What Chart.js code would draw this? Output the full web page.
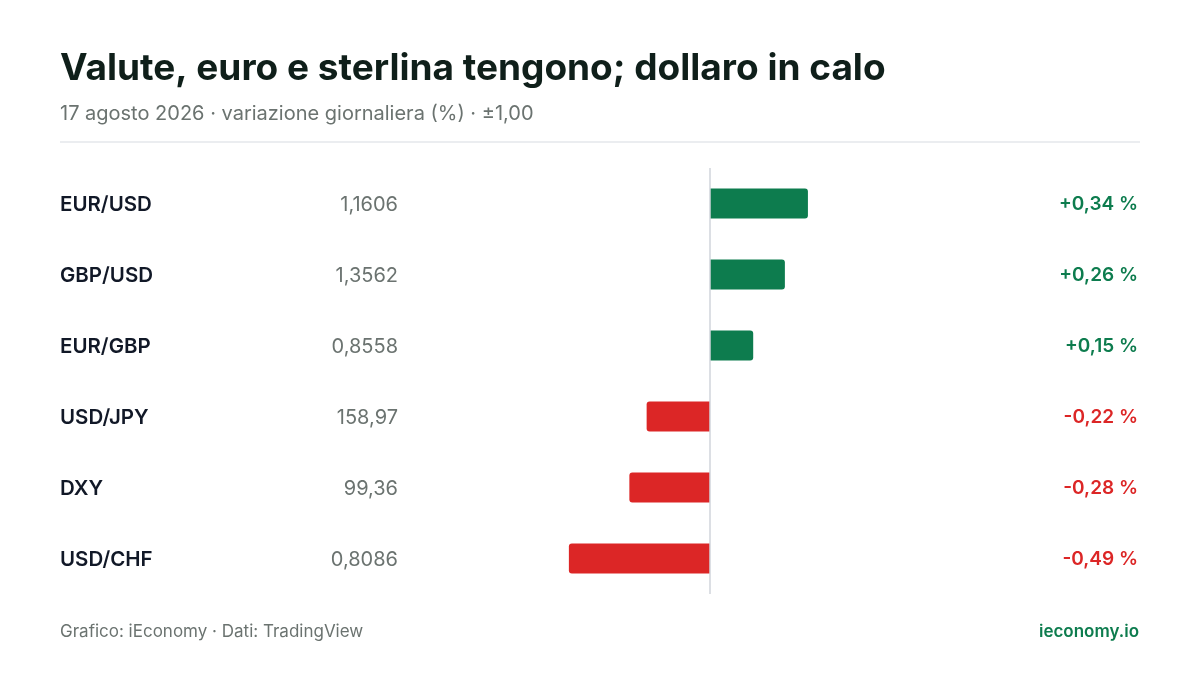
<!DOCTYPE html>
<html><head><meta charset="utf-8">
<script src="https://cdn.jsdelivr.net/npm/chart.js@4"></script>
<style>html,body{margin:0;padding:0;background:#fff}#c{display:block}</style>
</head><body>
<div style="width:1200px;height:675px"><canvas id="c"></canvas></div>
<script>
const pairs = ["EUR/USD","GBP/USD","EUR/GBP","USD/JPY","DXY","USD/CHF"];
const prices = ["1,1606","1,3562","0,8558","158,97","99,36","0,8086"];
const changes = [0.34,0.26,0.15,-0.22,-0.28,-0.49];
const changeLabels = ["+0,34 %","+0,26 %","+0,15 %","-0,22 %","-0,28 %","-0,49 %"];
const GREEN="#0d7c4e", RED="#dc2626", F="Inter, 'Noto Sans', sans-serif";

const deco = {
  id:'deco',
  afterDraw(ch){
    const c=ch.ctx, x=ch.scales.x, y=ch.scales.y;
    c.save();
    c.textBaseline='alphabetic';
    c.fillStyle='#0f1f1a'; c.font='bold 37px '+F; c.textAlign='left';
    c.fillText('Valute, euro e sterlina tengono; dollaro in calo',60,80);
    c.fillStyle='#6b7370'; c.font='20px '+F;
    c.fillText('17 agosto 2026 · variazione giornaliera (%) · ±1,00',60,120);
    c.strokeStyle='#e5e7eb'; c.lineWidth=1.5;
    c.beginPath(); c.moveTo(60,142); c.lineTo(1140,142); c.stroke();
    const x0=x.getPixelForValue(0);
    c.strokeStyle='#d1d5db'; c.lineWidth=1.5;
    c.beginPath(); c.moveTo(x0,168); c.lineTo(x0,594); c.stroke();
    c.textBaseline='middle';
    pairs.forEach((p,i)=>{
      const py=y.getPixelForValue(i)+1;
      c.textAlign='left'; c.fillStyle='#111827'; c.font='600 20.5px '+F;
      c.fillText(p,60,py);
      c.textAlign='right'; c.fillStyle='#6b7370'; c.font='20px '+F;
      c.fillText(prices[i],398,py);
      c.fillStyle=changes[i]>=0?GREEN:RED; c.font='600 19px '+F;
      c.fillText(changeLabels[i],1138,py);
    });
    c.textBaseline='alphabetic';
    c.textAlign='left'; c.fillStyle='#6b7370'; c.font='17px '+F;
    c.fillText('Grafico: iEconomy · Dati: TradingView',60,637);
    c.textAlign='right'; c.fillStyle=GREEN; c.font='600 17px '+F;
    c.fillText('ieconomy.io',1139,637);
    c.restore();
  }
};

new Chart(document.getElementById('c'),{
  type:'bar',
  data:{labels:pairs,datasets:[{data:changes,
    backgroundColor:changes.map(v=>v>=0?GREEN:RED),
    borderRadius:3,borderSkipped:'start',
    barPercentage:30/71,categoryPercentage:1}]},
  options:{
    indexAxis:'y',responsive:true,maintainAspectRatio:false,animation:false,
    layout:{padding:{left:422,right:202,top:168,bottom:81}},
    plugins:{legend:{display:false},tooltip:{enabled:false}},
    scales:{x:{display:false,min:-1,max:1},y:{display:false}}
  },
  plugins:[deco]
});
</script>
</body></html>
